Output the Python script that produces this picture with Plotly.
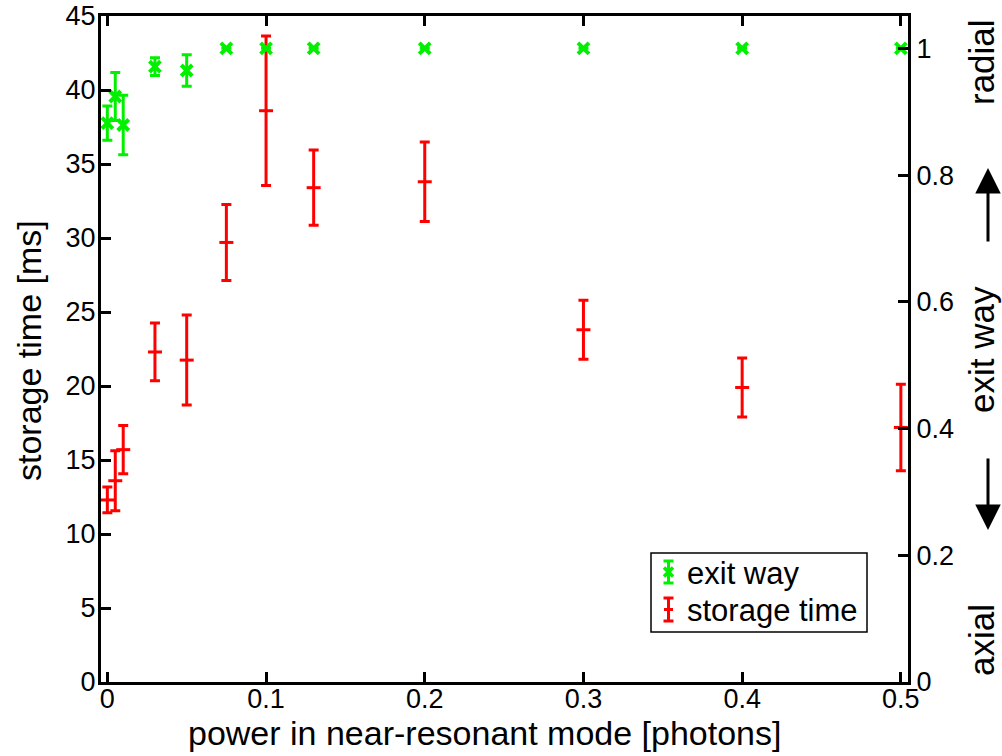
import plotly.graph_objects as go

# Measured data: storage time (left axis) and exit way (right axis)
power = [0, 0.005, 0.01, 0.03, 0.05, 0.075, 0.1, 0.13, 0.2, 0.3, 0.4, 0.5]
storage_time = [12.3, 13.6, 15.7, 22.3, 21.75, 29.7, 38.6, 33.4, 33.8, 23.8, 19.9, 17.2]
storage_err = [0.87, 2.03, 1.63, 1.95, 3.04, 2.57, 5.05, 2.54, 2.68, 2.0, 2.0, 2.92]
exit_way = [0.882, 0.924, 0.879, 0.971, 0.965, 1, 1, 1, 1, 1, 1, 1]
exit_err = [0.027, 0.038, 0.047, 0.014, 0.025, 0, 0, 0, 0, 0, 0, 0]

x_ticks = [0, 0.1, 0.2, 0.3, 0.4, 0.5]
x_labels = ["0", "0.1", "0.2", "0.3", "0.4", "0.5"]
y_ticks = [0, 5, 10, 15, 20, 25, 30, 35, 40, 45]
y2_ticks = [0, 0.2, 0.4, 0.6, 0.8, 1]
y2_labels = ["0", "0.2", "0.4", "0.6", "0.8", "1"]

RED = "#ff0000"
GREEN = "#00f000"
FONT = "Liberation Sans, Arial, sans-serif"

W, H = 1002, 756
L, R, T, B = 101, 94, 16, 74
pw, ph = W - L - R, H - T - B


def px(xp):
    return (xp - L) / pw


def py(yp):
    return (H - B - yp) / ph


fig = go.Figure()
fig.add_trace(go.Scatter(
    x=power, y=storage_time, mode="markers", name="storage time",
    marker=dict(symbol="line-ew", size=10, color=RED, line=dict(color=RED, width=3)),
    error_y=dict(type="data", array=storage_err, color=RED, thickness=3, width=5),
    showlegend=False,
))
fig.add_trace(go.Scatter(
    x=power, y=exit_way, yaxis="y2", mode="markers", name="exit way",
    marker=dict(symbol="x-thin", size=11, color=GREEN, line=dict(color=GREEN, width=4)),
    error_y=dict(type="data", array=exit_err, color=GREEN, thickness=3, width=5),
    showlegend=False,
))

axis_common = dict(
    showline=True, linecolor="black", linewidth=3,
    ticks="inside", ticklen=10, tickwidth=3, tickcolor="black",
    showgrid=False, zeroline=False, automargin=False,
    tickfont=dict(family=FONT, size=27, color="black"),
)

fig.update_layout(
    width=W, height=H,
    margin=dict(l=L, r=R, t=T, b=B, autoexpand=False),
    paper_bgcolor="white", plot_bgcolor="white",
    showlegend=False,
    xaxis=dict(range=[-0.004, 0.5045], tickvals=x_ticks, ticktext=x_labels,
               mirror="ticks", ticklabelstandoff=-9, **axis_common),
    yaxis=dict(range=[0, 45], tickvals=y_ticks, ticklabelstandoff=-3, **axis_common),
    yaxis2=dict(range=[0, 1.051], tickvals=y2_ticks, ticktext=y2_labels,
                overlaying="y", side="right", **axis_common),
)

ann = []


def label(txt, xc, yc, size, angle=0, anchor="center"):
    return dict(text=txt, x=px(xc), y=py(yc), textangle=angle,
                xanchor=anchor, yanchor="middle",
                xref="paper", yref="paper", showarrow=False,
                font=dict(family=FONT, size=size, color="black"))


# axis titles
ann.append(label("power in near-resonant mode [photons]", 484, 733, 34))
ann.append(label("storage time [ms]", 29, 351, 34, angle=-90))
# right-hand exit way labels
for txt, yc in [("radial", 62), ("exit way", 350), ("axial", 640)]:
    ann.append(label(txt, 981, yc, 35, angle=-90))
# direction arrows
ann.append(dict(text="", x=px(988), y=py(168), xref="paper", yref="paper",
                showarrow=True, ax=0, ay=75, arrowhead=2, arrowsize=1.7,
                arrowwidth=3, arrowcolor="black"))
ann.append(dict(text="", x=px(988), y=py(530), xref="paper", yref="paper",
                showarrow=True, ax=0, ay=-73, arrowhead=2, arrowsize=1.7,
                arrowwidth=3, arrowcolor="black"))
# legend text
for txt, yc in [("exit way", 573), ("storage time", 610)]:
    ann.append(label(txt, 685, yc, 31, anchor="left"))

shapes = []
# legend frame
shapes.append(dict(type="rect", xref="paper", yref="paper",
                   x0=px(651), x1=px(867), y0=py(553), y1=py(632),
                   line=dict(color="black", width=1.5), fillcolor="white", layer="below"))


def glyph(xc, y_top, y_bot, color):
    out = [dict(type="line", x0=px(xc), x1=px(xc), y0=py(y_top), y1=py(y_bot)),
           dict(type="line", x0=px(xc - 5), x1=px(xc + 5), y0=py(y_top), y1=py(y_top)),
           dict(type="line", x0=px(xc - 5), x1=px(xc + 5), y0=py(y_bot), y1=py(y_bot))]
    for s in out:
        s.update(xref="paper", yref="paper", line=dict(color=color, width=3))
    return out


shapes += glyph(668.5, 561, 583, GREEN)
shapes += glyph(668.5, 598, 621, RED)
yc = 572
for d in (1, -1):
    shapes.append(dict(type="line", xref="paper", yref="paper",
                       x0=px(668.5 - 4.5), x1=px(668.5 + 4.5),
                       y0=py(yc - 4.5 * d), y1=py(yc + 4.5 * d),
                       line=dict(color=GREEN, width=3.5)))
shapes.append(dict(type="line", xref="paper", yref="paper",
                   x0=px(664), x1=px(673), y0=py(609.5), y1=py(609.5),
                   line=dict(color=RED, width=3)))

fig.update_layout(annotations=ann, shapes=shapes)
fig.write_html("out.html")
